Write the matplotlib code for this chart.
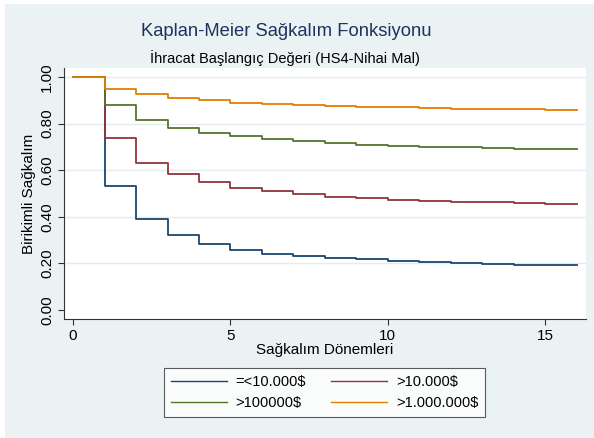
import matplotlib
matplotlib.use('Agg')
import matplotlib.pyplot as plt
from matplotlib.patches import Rectangle

plt.rcParams['font.family'] = ['Liberation Sans', 'DejaVu Sans']

# Survival periods and KM estimates per starting-value group
periods = list(range(0, 17))
surv_low = [1.0, 0.532, 0.389, 0.320, 0.282, 0.258, 0.240, 0.232, 0.225, 0.218,
            0.212, 0.206, 0.202, 0.199, 0.195, 0.194, 0.194]
surv_10k = [1.0, 0.739, 0.632, 0.582, 0.549, 0.524, 0.511, 0.499, 0.486, 0.479,
            0.473, 0.468, 0.464, 0.462, 0.459, 0.456, 0.456]
surv_100k = [1.0, 0.878, 0.814, 0.782, 0.761, 0.745, 0.734, 0.725, 0.715, 0.710,
             0.705, 0.701, 0.698, 0.695, 0.692, 0.691, 0.691]
surv_1m = [1.0, 0.950, 0.926, 0.911, 0.900, 0.890, 0.884, 0.881, 0.874, 0.873,
           0.870, 0.867, 0.864, 0.863, 0.862, 0.860, 0.860]
labels = ['=<10.000$', '>10.000$', '>100000$', '>1.000.000$']
colors = ['#1A476F', '#90353B', '#55752F', '#E37E00']

yticks = [0.0, 0.2, 0.4, 0.6, 0.8, 1.0]
xticks = [0, 5, 10, 15]

bg = '#EAF2F3'
fig = plt.figure(figsize=(5.94, 4.38), dpi=100, facecolor='white')
fig.patches.append(Rectangle((5 / 594, 0), 1, 1 - 4 / 438, transform=fig.transFigure,
                             facecolor=bg, edgecolor='none', zorder=-10))

ax = fig.add_axes([64 / 594, 1 - 319 / 438, 522 / 594, 251 / 438])
ax.set_facecolor('white')

for y in yticks[1:]:
    ax.axhline(y, color='#E3ECEF', lw=1.0, zorder=0)

series = [surv_low, surv_10k, surv_100k, surv_1m]
handles = []
for vals, lab, col in zip(series, labels, colors):
    h, = ax.step(periods, vals, where='post', color=col, lw=1.3, label=lab)
    handles.append(h)

ax.set_xlim(-0.29, 16.3)
ax.set_ylim(-0.039, 1.039)
ax.set_xticks(xticks)
ax.set_yticks(yticks)
ax.set_yticklabels([f'{v:.2f}' for v in yticks], rotation=90, va='center')
ax.tick_params(axis='both', direction='out', length=4, width=0.8, color='#333333',
               labelsize=11, pad=3)

for s in ['top', 'right']:
    ax.spines[s].set_visible(False)
for s in ['left', 'bottom']:
    ax.spines[s].set_color('#333333')
    ax.spines[s].set_linewidth(0.8)

ax.set_xlabel('Sağkalım Dönemleri', fontsize=11, labelpad=0)
ax.set_ylabel('Birikimli Sağkalım', fontsize=11, labelpad=3)

fig.text(286 / 594, 1 - 32 / 438, 'Kaplan-Meier Sağkalım Fonksiyonu', ha='center',
         va='center', fontsize=13.2, color='#1E3160')
fig.text(285 / 594, 1 - 58 / 438, 'İhracat Başlangıç Değeri (HS4-Nihai Mal)', ha='center',
         va='center', fontsize=10.5)

# legend filled row by row: two entries per row
order = [0, 2, 1, 3]
leg = fig.legend([handles[i] for i in order], [labels[i] for i in order],
                 loc='center', bbox_to_anchor=(324.5 / 594, 1 - 392.5 / 438), ncol=2,
                 frameon=True, fancybox=False, fontsize=10.5, handlelength=3.85,
                 columnspacing=1.7, handletextpad=0.6, borderpad=0.45, labelspacing=0.5,
                 borderaxespad=0)
leg.get_frame().set_edgecolor('#333333')
leg.get_frame().set_linewidth(0.8)
for line in leg.get_lines():
    line.set_linewidth(1.0)

fig.savefig('out.png', dpi=100, facecolor=fig.get_facecolor())
